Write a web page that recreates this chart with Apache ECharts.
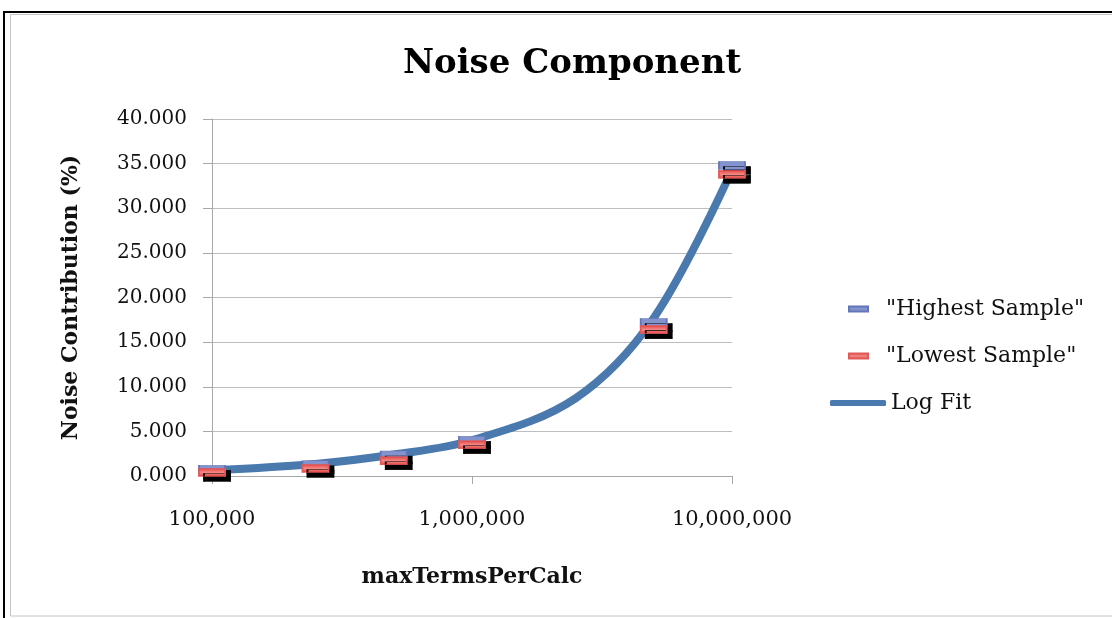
<!DOCTYPE html>
<html>
<head>
<meta charset="utf-8">
<title>Noise Component</title>
<script src="https://cdn.jsdelivr.net/npm/echarts@6/dist/echarts.min.js"></script>
<style>
  html, body { margin: 0; padding: 0; background: #fff; }
  #chart { width: 1112px; height: 618px; }
</style>
</head>
<body>
<div id="chart"></div>
<script>
// maxTermsPerCalc sample points (log scale on x)
const xValues = [100000, 250000, 500000, 1000000, 5000000, 10000000];
// noise contribution (%) per sample
const highestSample = [0.75, 1.25, 2.35, 4.0, 17.2, 34.8];
const lowestSample = [0.4, 0.85, 1.7, 3.5, 16.4, 33.8];
// fitted curve
const fitX = [100000, 250000, 500000, 1000000, 2500000, 5000000, 10000000];
const logFit = [0.65, 1.35, 2.4, 4.0, 8.7, 17.7, 34.3];
// axis ranges
const yTicks = { min: 0, max: 40, interval: 5 };
const xRange = { min: 100000, max: 10000000 };

const SERIF = '"DejaVu Serif", "Liberation Serif", serif';

const pairs = (xs, ys) => xs.map((x, i) => [x, ys[i]]);

const redFill = new echarts.graphic.LinearGradient(0, 0, 0, 1, [
  { offset: 0, color: '#e3403f' },
  { offset: 0.5, color: '#f28a87' },
  { offset: 1, color: '#e3403f' }
]);

const noShadow = { shadowBlur: 0, shadowOffsetX: 0, shadowOffsetY: 0, shadowColor: 'transparent' };

const chart = echarts.init(document.getElementById('chart'), null, { renderer: 'canvas' });

chart.setOption({
  animation: false,
  backgroundColor: '#ffffff',
  title: {
    text: 'Noise Component',
    left: 567,
    top: 42,
    textAlign: 'center',
    textStyle: { fontFamily: SERIF, fontWeight: 'bold', fontSize: 34, color: '#000' }
  },
  graphic: [
    // chart frame
    { type: 'rect', shape: { x: 10.5, y: 14.5, width: 1120, height: 601.5 }, style: { fill: 'none', stroke: '#c4c4c4', lineWidth: 1 }, silent: true },
    { type: 'line', shape: { x1: 4, y1: 12, x2: 1112, y2: 12 }, style: { stroke: '#000', lineWidth: 2 }, silent: true },
    { type: 'line', shape: { x1: 4, y1: 11, x2: 4, y2: 618 }, style: { stroke: '#000', lineWidth: 2 }, silent: true }
  ],
  legend: [
    {
      data: [{ name: '"Highest Sample"', icon: 'rect' }],
      left: 843, top: 293, orient: 'vertical',
      itemWidth: 19, itemHeight: 5,
      itemStyle: noShadow,
      textStyle: { fontFamily: SERIF, fontSize: 22, color: '#111', padding: [9, 0, 0, 13] },
      selectedMode: false
    },
    {
      data: [{ name: '"Lowest Sample"', icon: 'rect' }],
      left: 843, top: 340, orient: 'vertical',
      itemWidth: 19, itemHeight: 5,
      itemStyle: noShadow,
      textStyle: { fontFamily: SERIF, fontSize: 22, color: '#111', padding: [9, 0, 0, 13] },
      selectedMode: false
    },
    {
      data: [{ name: 'Log Fit', icon: 'roundRect' }],
      left: 825, top: 387, orient: 'vertical',
      itemWidth: 56, itemHeight: 6,
      textStyle: { fontFamily: SERIF, fontSize: 22, color: '#111', padding: [9, 0, 0, 0] },
      selectedMode: false
    }
  ],
  grid: { left: 212, right: 380, top: 119, bottom: 142, containLabel: false },
  xAxis: {
    type: 'log',
    logBase: 10,
    min: xRange.min,
    max: xRange.max,
    name: 'maxTermsPerCalc',
    nameLocation: 'middle',
    nameGap: 90,
    nameTextStyle: { fontFamily: SERIF, fontWeight: 'bold', fontSize: 22, color: '#111' },
    axisLine: { show: true, lineStyle: { color: '#a8a8a8', width: 1 } },
    axisTick: { show: true, length: 8, lineStyle: { color: '#a8a8a8' } },
    minorTick: { show: false },
    splitLine: { show: false },
    axisLabel: {
      margin: 33,
      fontFamily: SERIF, fontSize: 21, color: '#111',
      formatter: v => Math.round(v).toLocaleString('en-US')
    }
  },
  yAxis: {
    type: 'value',
    min: yTicks.min,
    max: yTicks.max,
    interval: yTicks.interval,
    name: 'Noise Contribution (%)',
    nameLocation: 'middle',
    nameGap: 130,
    nameRotate: 90,
    nameTextStyle: { fontFamily: SERIF, fontWeight: 'bold', fontSize: 22, color: '#111' },
    axisLine: { show: true, lineStyle: { color: '#a8a8a8', width: 1 } },
    axisTick: { show: true, length: 9, lineStyle: { color: '#a8a8a8' } },
    splitLine: { show: true, lineStyle: { color: '#bdbdbd', width: 1 } },
    axisLabel: {
      margin: 25,
      fontFamily: SERIF, fontSize: 20, color: '#111',
      formatter: v => v.toFixed(3)
    }
  },
  series: [
    {
      name: 'Log Fit',
      type: 'line',
      data: pairs(fitX, logFit),
      smooth: 0.35,
      showSymbol: false,
      symbol: 'none',
      z: 2,
      lineStyle: { color: '#4a79ae', width: 8, cap: 'round', join: 'round' },
      itemStyle: { color: '#4a79ae' },
      emphasis: { disabled: true }
    },
    {
      name: '"Highest Sample"',
      type: 'scatter',
      data: pairs(xValues, highestSample),
      symbol: 'rect',
      symbolSize: [26, 8],
      z: 3,
      itemStyle: {
        color: '#8393cd', borderColor: '#6576b8', borderWidth: 1, opacity: 1,
        shadowColor: '#000', shadowBlur: 0, shadowOffsetX: 5, shadowOffsetY: 5
      },
      emphasis: { disabled: true }
    },
    {
      name: '"Lowest Sample"',
      type: 'scatter',
      data: pairs(xValues, lowestSample),
      symbol: 'rect',
      symbolSize: [26, 8],
      z: 4,
      itemStyle: {
        color: redFill, borderColor: '#e05a5a', borderWidth: 1, opacity: 1,
        shadowColor: '#000', shadowBlur: 0, shadowOffsetX: 5, shadowOffsetY: 5
      },
      emphasis: { disabled: true }
    }
  ]
});
</script>
</body>
</html>
